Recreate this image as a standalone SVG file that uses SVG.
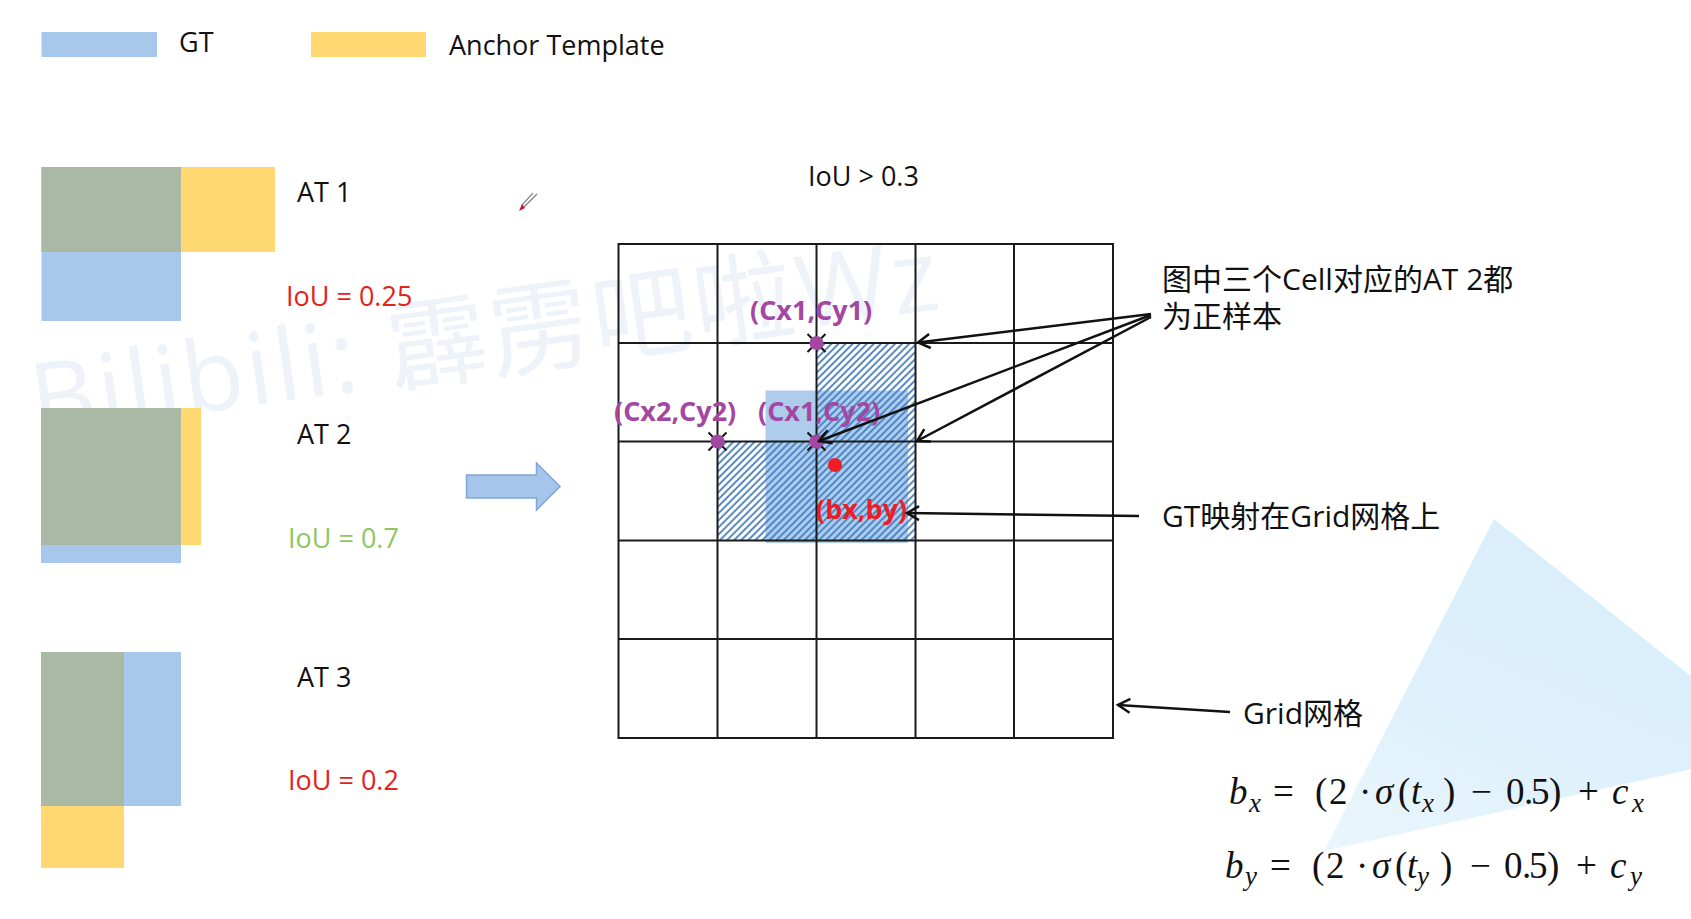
<svg xmlns="http://www.w3.org/2000/svg" width="1691" height="919" viewBox="0 0 1691 919">
<defs>
<style>
.t{font-family:'Open Sans','Noto Sans CJK SC',sans-serif;font-size:27px;fill:#111}
.cn{font-family:'Open Sans','Noto Sans CJK SC',sans-serif;font-size:30px;fill:#111}
.red{fill:#E32219}
.grn{fill:#8FC65E}
.pur{font-family:'Open Sans',sans-serif;font-size:27px;font-weight:bold;fill:#A347A3}
.redb{font-family:'Open Sans',sans-serif;font-size:27px;font-weight:bold;fill:#EE1C25}
.gt{fill:#A7C8EB}
.at{fill:#FFD872}
.ov{fill:#A9B9A5}
.grid{stroke:#1a1a1a;stroke-width:2;fill:none}
.conn{stroke:#111;stroke-width:2.5;fill:none}
.xm{stroke:#111;stroke-width:2}
.dot{fill:#A347A3}
.f{font-family:'Liberation Serif','DejaVu Serif',serif;font-size:37px;fill:#111}
.i{font-style:italic}
.s{font-size:27px;font-style:italic}
</style>
<pattern id="hatch" width="5" height="5" patternUnits="userSpaceOnUse" patternTransform="rotate(45)">
<rect width="5" height="5" fill="#ffffff"/>
<line x1="1" y1="0" x2="1" y2="5" stroke="#5A8BC6" stroke-width="2"/>
</pattern>
<linearGradient id="tri" x1="0" y1="1" x2="0.6" y2="0">
<stop offset="0" stop-color="#EAF6FD"/>
<stop offset="0.5" stop-color="#DDF0FB"/>
<stop offset="1" stop-color="#D8EEFA"/>
</linearGradient>
<marker id="arr" markerWidth="20" markerHeight="20" refX="0" refY="0" viewBox="-14 -10 16 20" orient="auto" markerUnits="userSpaceOnUse">
<path d="M-12,-7 L0,0 L-12,7" fill="none" stroke="#111" stroke-width="2.5"/>
</marker>
</defs>
<rect width="1691" height="919" fill="#ffffff"/>

<g id="background">
<polygon points="1494,519 1324,851 1782,749" fill="url(#tri)"/>
<text x="36" y="436" transform="rotate(-8 36 436)" font-family="'Open Sans','Noto Sans CJK SC',sans-serif" font-size="100" fill="#EEF3F9" textLength="915">Bilibili: 霹雳吧啦Wz</text>
<g id="pen">
<line x1="537" y1="194" x2="524" y2="207" stroke="#888" stroke-width="1.5"/>
<line x1="533" y1="193" x2="522" y2="205" stroke="#888" stroke-width="1.2"/>
<polygon points="519,211 522,204 525,208" fill="#D0102A"/>
</g>
</g>

<g id="legend">
<rect class="gt" x="41.5" y="32" width="115.5" height="25"/>
<text class="t" x="179" y="52">GT</text>
<rect class="at" x="311" y="32" width="115" height="25"/>
<text class="t" x="449" y="55">Anchor Template</text>
</g>

<g id="at1">
<rect class="at" x="41.5" y="167" width="233.5" height="85"/>
<rect class="gt" x="41.5" y="167" width="139.5" height="154"/>
<rect class="ov" x="41.5" y="167" width="139.5" height="85"/>
<text class="t" x="297" y="202">AT 1</text>
<text class="t red" x="286" y="306">IoU = 0.25</text>
</g>

<g id="at2">
<rect class="at" x="41" y="408" width="160" height="137"/>
<rect class="gt" x="41" y="408" width="140" height="155"/>
<rect class="ov" x="41" y="408" width="140" height="137"/>
<text class="t" x="297" y="444">AT 2</text>
<text class="t grn" x="288" y="548">IoU = 0.7</text>
</g>

<g id="at3">
<rect class="gt" x="41" y="652" width="140" height="154"/>
<rect class="at" x="41" y="652" width="83" height="216"/>
<rect class="ov" x="41" y="652" width="83" height="154"/>
<text class="t" x="297" y="687">AT 3</text>
<text class="t red" x="288" y="790">IoU = 0.2</text>
</g>

<g id="big-arrow">
<polygon points="466.5,475 536.5,475 536.5,463 560,486.5 536.5,510 536.5,498 466.5,498" fill="#A5C6EA" stroke="#7EA6D6" stroke-width="1.5"/>
</g>

<g id="title">
<text class="t" x="808" y="186">IoU &gt; 0.3</text>
</g>

<g id="grid">
<polygon points="816.5,343 915.5,343 915.5,540.5 717.5,540.5 717.5,441.5 816.5,441.5" fill="url(#hatch)"/>
<rect x="765.5" y="390.5" width="142.5" height="152.5" fill="#3D86D0" fill-opacity="0.42"/>
<rect class="grid" x="618.5" y="244" width="494.5" height="494"/>
<path class="grid" d="M717.5,244V738 M816.5,244V738 M915.5,244V738 M1014,244V738 M618.5,343H1113 M618.5,441.5H1113 M618.5,540.5H1113 M618.5,639H1113"/>
</g>

<g id="points">
<g id="p-cx1cy1">
<path class="xm" d="M807.5,334L825.5,352M807.5,352L825.5,334"/>
<circle class="dot" cx="816.5" cy="343" r="7"/>
<text class="pur" x="750" y="320">(Cx1,Cy1)</text>
</g>
<g id="p-cx2cy2">
<path class="xm" d="M708.5,432.5L726.5,450.5M708.5,450.5L726.5,432.5"/>
<circle class="dot" cx="717.5" cy="441.5" r="7"/>
<text class="pur" x="614" y="421">(Cx2,Cy2)</text>
</g>
<g id="p-cx1cy2">
<path class="xm" d="M807.5,432.5L825.5,450.5M807.5,450.5L825.5,432.5"/>
<circle class="dot" cx="816.5" cy="441.5" r="7"/>
<text class="pur" x="758" y="421">(Cx1,Cy2)</text>
</g>
<g id="p-bxby">
<circle cx="835" cy="465" r="7" fill="#EE1C25"/>
<text class="redb" x="816" y="519">(bx,by)</text>
</g>
</g>

<g id="connectors">
<path class="conn" d="M1151,314 L918,342.5" marker-end="url(#arr)"/>
<path class="conn" d="M1151,315 L819,441" marker-end="url(#arr)"/>
<path class="conn" d="M1151,317 L917,441" marker-end="url(#arr)"/>
<path class="conn" d="M1139,516 L907,513" marker-end="url(#arr)"/>
<path class="conn" d="M1230,712 L1118,705" marker-end="url(#arr)"/>
</g>

<g id="labels">
<text class="cn" x="1162" y="290">图中三个Cell对应的AT 2都</text>
<text class="cn" x="1162" y="327">为正样本</text>
<text class="cn" x="1162" y="527">GT映射在Grid网格上</text>
<text class="cn" x="1243" y="724">Grid网格</text>
</g>

<g id="formulas">
<text class="f">
<tspan class="i" x="1229" y="804">b</tspan><tspan class="s" x="1249" y="812">x</tspan><tspan x="1273" y="804">=</tspan><tspan x="1315" y="804">(</tspan><tspan x="1329" y="804">2</tspan><tspan x="1359" y="804">·</tspan><tspan class="i" x="1375" y="804">σ</tspan><tspan x="1398" y="804">(</tspan><tspan class="i" x="1411" y="804">t</tspan><tspan class="s" x="1422" y="812">x</tspan><tspan x="1443" y="804">)</tspan><tspan x="1471" y="804">−</tspan><tspan x="1506" y="804">0</tspan><tspan x="1524" y="804">.</tspan><tspan x="1531" y="804">5</tspan><tspan x="1549" y="804">)</tspan><tspan x="1578" y="804">+</tspan><tspan class="i" x="1612" y="804">c</tspan><tspan class="s" x="1632" y="812">x</tspan>
</text>
<text class="f">
<tspan class="i" x="1225" y="878">b</tspan><tspan class="s" x="1245" y="885">y</tspan><tspan x="1270" y="878">=</tspan><tspan x="1312" y="878">(</tspan><tspan x="1326" y="878">2</tspan><tspan x="1356" y="878">·</tspan><tspan class="i" x="1372" y="878">σ</tspan><tspan x="1395" y="878">(</tspan><tspan class="i" x="1407" y="878">t</tspan><tspan class="s" x="1417" y="885">y</tspan><tspan x="1440" y="878">)</tspan><tspan x="1470" y="878">−</tspan><tspan x="1504" y="878">0</tspan><tspan x="1522" y="878">.</tspan><tspan x="1529" y="878">5</tspan><tspan x="1547" y="878">)</tspan><tspan x="1576" y="878">+</tspan><tspan class="i" x="1610" y="878">c</tspan><tspan class="s" x="1630" y="885">y</tspan>
</text>
</g>
</svg>
